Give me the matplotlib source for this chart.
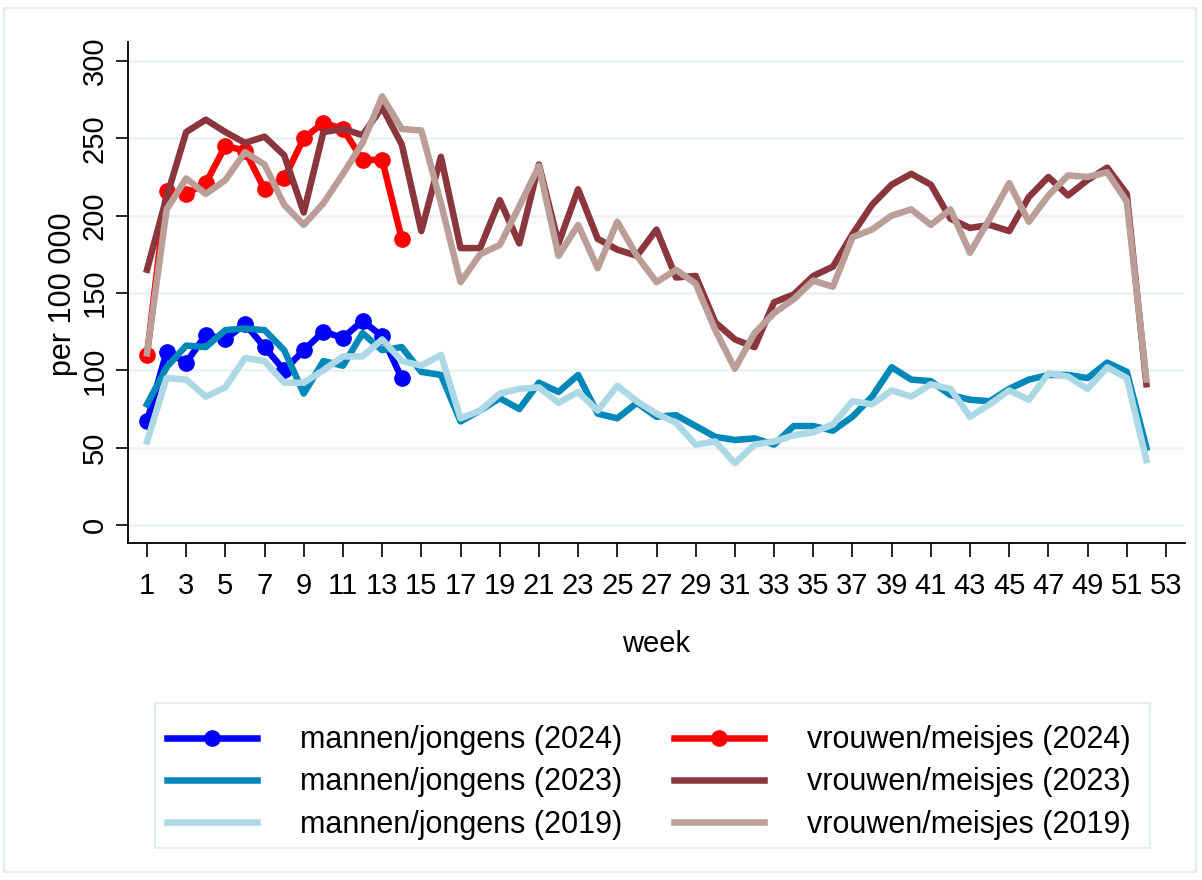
import matplotlib
matplotlib.use("Agg")
import matplotlib.pyplot as plt
from matplotlib.patches import Rectangle

plt.rcParams['font.family'] = ['Liberation Sans', 'DejaVu Sans']

weeks_full = list(range(1, 53))
weeks_2024 = list(range(1, 15))

mannen_2024 = [67, 112, 105, 123, 120, 130, 115, 100, 113, 125, 121, 132, 122, 95]
vrouwen_2024 = [110, 216, 214, 221, 245, 242, 217, 224, 250, 260, 256, 236, 236, 185]

mannen_2023 = [78, 102, 116, 115, 126, 127, 126, 113, 85, 106, 103, 124, 113, 115, 99, 97,
               67, 74, 82, 75, 92, 86, 97, 72, 69, 79, 70, 71, 64, 57, 55, 56, 52, 64, 64,
               61, 70, 83, 102, 94, 93, 84, 81, 80, 88, 94, 97, 97, 95, 105, 99, 50]
mannen_2019 = [54, 95, 94, 83, 89, 108, 106, 92, 92, 100, 109, 109, 120, 106, 103, 110,
               69, 74, 85, 88, 89, 79, 86, 74, 90, 80, 72, 66, 52, 54, 40, 52, 54, 58, 60,
               65, 80, 78, 87, 83, 91, 88, 70, 78, 87, 81, 98, 96, 88, 102, 95, 42]
vrouwen_2023 = [165, 212, 254, 262, 254, 247, 251, 239, 202, 254, 256, 252, 270, 246, 190,
                238, 179, 179, 210, 182, 233, 182, 217, 185, 178, 174, 191, 160, 161, 131,
                120, 115, 144, 149, 161, 167, 188, 207, 220, 227, 220, 198, 192, 194, 190,
                212, 225, 213, 223, 231, 214, 91]
vrouwen_2019 = [111, 204, 224, 214, 223, 241, 233, 207, 194, 208, 227, 247, 277, 256, 255,
                208, 157, 175, 181, 206, 232, 174, 194, 166, 196, 174, 157, 165, 156, 126,
                101, 124, 137, 146, 158, 154, 186, 191, 200, 204, 194, 204, 176, 198, 221,
                196, 213, 226, 225, 228, 209, 94]

labels = ["mannen/jongens (2024)", "mannen/jongens (2023)", "mannen/jongens (2019)",
          "vrouwen/meisjes (2024)", "vrouwen/meisjes (2023)", "vrouwen/meisjes (2019)"]
y_ticks = [0, 50, 100, 150, 200, 250, 300]
x_ticks = list(range(1, 54, 2))

c_m24, c_m23, c_m19 = "#0000FF", "#0088BA", "#ADD8E6"
c_v24, c_v23, c_v19 = "#FF0000", "#8B353D", "#BC9E99"

W, H = 1202, 880
fig = plt.figure(figsize=(W / 100, H / 100), dpi=100)
fig.patches.append(Rectangle((4 / W, 8 / H), 1192 / W, 864 / H, transform=fig.transFigure,
                             fill=False, edgecolor="#E6EDEF", linewidth=1.5))
fig.patches.append(Rectangle((155 / W, 1 - 848 / H), (1150 - 155) / W, 145 / H,
                             transform=fig.transFigure, fill=False,
                             edgecolor="#E6EDEF", linewidth=1.5))

ax = fig.add_axes([128 / W, 1 - 543 / H, (1185 - 128) / W, (543 - 42) / H])
lw = 4.7
h_m24, = ax.plot(weeks_2024, mannen_2024, color=c_m24, lw=lw, marker='o', ms=11, zorder=3)
h_v24, = ax.plot(weeks_2024, vrouwen_2024, color=c_v24, lw=lw, marker='o', ms=11, zorder=3)
h_m23, = ax.plot(weeks_full, mannen_2023, color=c_m23, lw=lw, zorder=4)
h_v23, = ax.plot(weeks_full, vrouwen_2023, color=c_v23, lw=lw, zorder=4)
h_m19, = ax.plot(weeks_full, mannen_2019, color=c_m19, lw=lw, zorder=5)
h_v19, = ax.plot(weeks_full, vrouwen_2019, color=c_v19, lw=lw, zorder=5)

ax.set_xlim(0.03, 53.97)
ax.set_ylim(-11.6, 312.2)
ax.set_yticks(y_ticks)
ax.set_yticklabels([str(v) for v in y_ticks], rotation=90, fontsize=21)
ax.set_xticks(x_ticks)
ax.set_xticklabels([str(v) for v in x_ticks], fontsize=21)
ax.tick_params(axis='y', length=9, width=1.2, pad=5)
ax.tick_params(axis='x', length=10, width=1.2, pad=11)
for t in ax.get_yticklabels():
    t.set_rotation_mode('anchor')
    t.set_ha('center')
    t.set_va('bottom')

for s in ['top', 'right']:
    ax.spines[s].set_visible(False)
for s in ['left', 'bottom']:
    ax.spines[s].set_linewidth(1.3)
ax.grid(axis='y', color="#EAF2F3", lw=1.8, zorder=0)
ax.set_axisbelow(True)
fig.text(63 / W, 1 - 294 / H, "per 100 000", fontsize=22, rotation=90,
         ha='center', va='center')
fig.text(656 / W, 1 - 644 / H, "week", fontsize=21, ha='center', va='center')

handles = [h_m24, h_m23, h_m19, h_v24, h_v23, h_v19]
leg = fig.legend(handles, labels, loc='upper left', ncol=2, fontsize=22,
                 bbox_to_anchor=(155 / W, 1 - 713 / H),
                 frameon=False, handlelength=2.95,
                 handletextpad=1.4, labelspacing=0.40, borderpad=0.4, columnspacing=1.7,
                 borderaxespad=0.0)

fig.savefig("out.png", dpi=100)
